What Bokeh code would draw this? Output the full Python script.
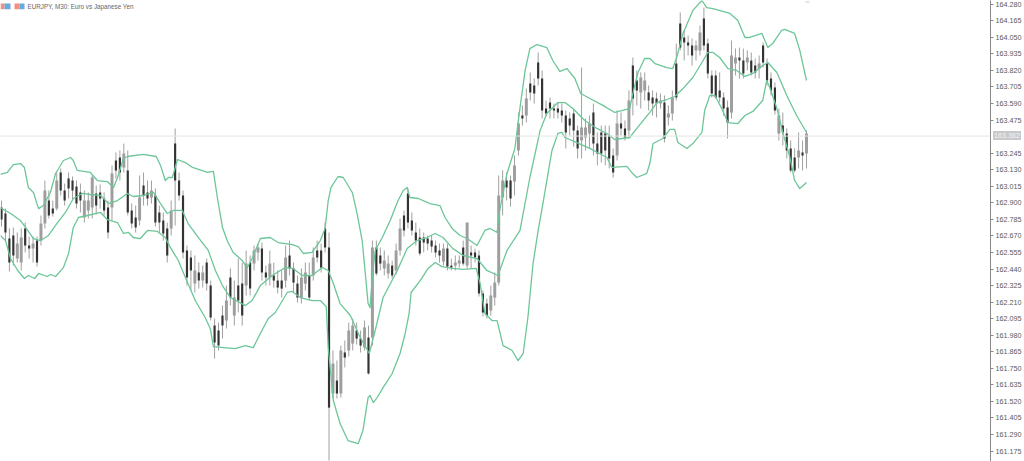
from bokeh.plotting import figure
from bokeh.layouts import column
from bokeh.models import (ColumnDataSource, Range1d, FixedTicker, NumeralTickFormatter,
                          Span, Label, BoxAnnotation, Div)
from bokeh.embed import file_html
from bokeh.resources import INLINE

TITLE = "EURJPY, M30:  Euro vs Japanese Yen"
LAST_PRICE = 163.364
LAST_LABEL = "163.362"
TICK_LABELS = [164.280,164.165,164.050,163.935,163.820,163.705,163.590,163.475,163.245,163.130,
               163.015,162.900,162.785,162.670,162.555,162.440,162.325,162.210,162.095,161.980,
               161.865,161.750,161.635,161.520,161.405,161.290,161.175]

bar_open = [
162.867,162.826,162.652,162.673,162.513,162.485,162.722,162.603,162.582,162.638,
162.638,162.756,162.916,162.860,162.860,163.111,162.986,163.069,163.055,163.014,
162.972,162.798,162.847,162.867,162.965,162.972,162.930,162.867,162.867,163.194,
163.215,163.146,163.125,162.847,162.798,162.777,163.020,162.972,162.937,162.951,
162.833,162.777,162.722,162.722,163.312,163.055,162.951,162.569,162.520,162.339,
162.416,162.360,162.485,162.325,162.047,162.013,162.117,162.082,162.381,162.117,
162.325,162.339,162.325,162.485,162.478,162.555,162.582,162.416,162.381,162.395,
162.360,162.360,162.360,162.534,162.444,162.339,162.242,162.339,162.395,162.395,
162.569,162.569,162.722,162.590,161.575,161.665,161.575,161.860,161.874,161.922,
162.013,161.957,161.895,161.964,161.964,162.590,162.534,162.444,162.409,162.464,
162.430,162.569,162.812,162.965,162.777,162.694,162.659,162.659,162.652,162.638,
162.603,162.569,162.492,162.582,162.464,162.464,162.478,162.590,162.464,162.555,
162.555,162.534,162.270,162.200,162.152,162.242,162.346,162.937,163.055,163.055,
163.048,163.264,163.507,163.507,163.729,163.715,163.875,163.764,163.555,163.597,
163.555,163.555,163.542,163.507,163.486,163.521,163.403,163.333,163.354,163.382,
163.528,163.312,163.389,163.382,163.368,163.229,163.229,163.451,163.417,163.403,
163.854,163.750,163.667,163.681,163.667,163.632,163.625,163.590,163.597,163.493,
163.521,163.868,164.146,164.049,164.014,163.993,163.959,163.959,164.181,164.007,
163.785,163.785,163.681,163.632,163.562,163.528,163.868,163.910,163.889,163.875,
163.889,163.854,163.833,163.993,163.868,163.764,163.701,163.382,163.437,163.382,
163.278,163.215,163.215,163.250,163.243]

bar_close = [
162.784,162.694,162.485,162.534,162.617,162.659,162.603,162.582,162.617,162.485,
162.756,162.986,162.812,162.826,163.055,162.986,162.916,163.000,162.986,162.895,
162.916,162.916,162.916,163.076,162.882,162.930,162.847,162.694,163.104,163.125,
163.111,163.243,162.833,162.756,162.729,162.937,162.951,162.930,162.986,162.763,
162.763,162.687,162.534,162.847,163.055,162.951,162.555,162.381,162.430,162.430,
162.360,162.416,162.339,162.103,161.929,161.908,162.047,162.221,162.242,162.242,
162.221,162.117,162.478,162.304,162.569,162.590,162.416,162.381,162.478,162.360,
162.311,162.304,162.520,162.444,162.346,162.242,162.381,162.416,162.242,162.520,
162.520,162.450,162.590,161.477,161.783,161.575,161.874,161.825,162.013,162.047,
161.957,161.908,162.034,161.714,162.590,162.409,162.478,162.499,162.478,162.395,
162.569,162.722,162.708,162.763,162.708,162.638,162.548,162.624,162.617,162.596,
162.555,162.534,162.582,162.457,162.450,162.485,162.499,162.478,162.763,162.534,
162.520,162.270,162.138,162.117,162.256,162.346,162.951,163.055,163.006,162.930,
163.160,163.451,163.486,163.625,163.667,163.660,163.764,163.542,163.521,163.555,
163.542,163.528,163.507,163.389,163.437,163.403,163.278,163.424,163.424,163.451,
163.312,163.243,163.243,163.264,163.208,163.111,163.451,163.417,163.354,163.611,
163.625,163.681,163.771,163.750,163.611,163.590,163.590,163.611,163.347,163.521,
163.632,163.632,163.979,164.014,163.993,163.924,163.993,164.084,163.993,163.799,
163.660,163.632,163.632,163.555,163.458,163.924,163.910,163.889,163.799,163.910,
163.806,163.806,163.868,163.875,163.750,163.681,163.542,163.507,163.389,163.264,
163.125,163.125,163.264,163.229,163.382]

bar_high = [
162.916,162.860,162.722,162.729,162.694,162.722,162.763,162.666,162.666,162.666,
162.812,163.055,162.986,162.916,163.111,163.139,163.034,163.111,163.083,163.055,
163.034,162.986,162.972,163.090,163.020,163.027,162.972,162.916,163.160,163.250,
163.264,163.312,163.264,162.895,162.881,163.090,163.111,163.055,163.055,163.000,
162.881,162.833,162.763,162.916,163.417,163.111,162.986,162.603,162.569,162.534,
162.485,162.464,162.513,162.360,162.096,162.068,162.186,162.325,162.444,162.360,
162.513,162.485,162.569,162.534,162.603,162.617,162.624,162.464,162.569,162.485,
162.430,162.430,162.603,162.638,162.485,162.395,162.444,162.485,162.485,162.590,
162.638,162.617,162.763,162.694,161.874,161.804,161.908,161.943,162.068,162.096,
162.068,162.013,162.082,162.047,162.638,162.638,162.590,162.569,162.534,162.499,
162.617,162.791,162.847,163.000,162.833,162.763,162.722,162.694,162.673,162.673,
162.638,162.617,162.617,162.617,162.513,162.534,162.534,162.638,162.763,162.603,
162.582,162.569,162.291,162.235,162.325,162.416,163.090,163.125,163.111,163.090,
163.229,163.528,163.577,163.694,163.806,163.764,163.945,163.820,163.611,163.632,
163.590,163.597,163.590,163.542,163.528,163.555,163.437,163.840,163.486,163.507,
163.590,163.389,163.437,163.437,163.437,163.278,163.542,163.528,163.472,163.681,
163.910,163.820,163.806,163.806,163.715,163.681,163.667,163.660,163.646,163.577,
163.681,164.007,164.223,164.098,164.063,164.042,164.028,164.132,164.257,164.042,
163.820,163.820,163.806,163.667,163.611,164.028,163.972,163.979,163.972,163.959,
163.945,163.903,163.924,164.014,163.903,163.806,163.736,163.555,163.528,163.417,
163.333,163.278,163.389,163.333,163.403]

bar_low = [
162.735,162.638,162.423,162.464,162.485,162.430,162.555,162.513,162.485,162.457,
162.603,162.722,162.791,162.805,162.847,162.951,162.881,162.930,162.916,162.860,
162.833,162.763,162.791,162.791,162.819,162.860,162.812,162.652,162.777,163.069,
163.055,163.111,162.812,162.722,162.694,162.742,162.881,162.881,162.895,162.735,
162.694,162.638,162.485,162.673,162.742,162.916,162.513,162.325,162.291,162.277,
162.304,162.311,162.291,162.082,161.818,161.874,161.957,162.027,162.186,162.047,
162.138,162.047,162.256,162.256,162.430,162.499,162.360,162.325,162.325,162.311,
162.270,162.242,162.311,162.395,162.277,162.207,162.200,162.291,162.221,162.360,
162.485,162.416,162.555,161.109,161.540,161.540,161.547,161.756,161.832,161.874,
161.915,161.860,161.874,161.707,161.908,162.395,162.430,162.395,162.374,162.374,
162.402,162.534,162.666,162.722,162.673,162.603,162.534,162.555,162.569,162.555,
162.520,162.485,162.464,162.430,162.430,162.430,162.450,162.464,162.444,162.444,
162.485,162.249,162.110,162.096,162.117,162.186,162.325,162.812,162.916,162.874,
162.951,163.229,163.437,163.458,163.611,163.590,163.715,163.486,163.500,163.486,
163.486,163.486,163.458,163.278,163.368,163.291,163.208,163.208,163.264,163.278,
163.229,163.160,163.180,163.160,163.139,163.076,163.194,163.368,163.333,163.347,
163.507,163.577,163.555,163.611,163.542,163.507,163.493,163.555,163.319,163.437,
163.472,163.611,163.959,163.889,163.924,163.854,163.889,163.924,163.959,163.764,
163.632,163.625,163.597,163.507,163.347,163.486,163.785,163.764,163.764,163.820,
163.785,163.764,163.764,163.840,163.715,163.646,163.514,163.333,163.299,163.208,
163.111,163.111,163.139,163.125,163.139]

upper_bar = [
-0.3,1.5,3.0,4.8,5.8,6.8,8.1,9.4,10.6,12.4,
13.7,15.7,17.5,18.2,19.2,22.5,24.3,26.8,28.4,29.4,
30.9,31.9,35.9,39.2,40.3,41.5,42.3,43.3,44.6,46.6,
48.4,52.2,53.7,54.7,56.0,57.2,58.7,61.0,62.3,63.5,
65.6,68.1,70.1,73.7,75.2,76.5,78.7,80.8,82.0,82.8,
83.5,85.3,86.6,88.9,90.1,91.4,92.2,92.9,93.4,93.9,
94.7,96.5,98.5,100.5,101.8,102.8,103.5,105.6,108.6,111.1,
112.4,114.2,116.2,118.0,120.5,122.5,123.8,125.6,126.1,128.1,
130.1,131.4,132.7,133.9,135.7,138.2,139.7,141.5,143.3,145.3,
146.8,149.1,152.4,155.4,159.2,160.0,161.3,163.0,164.3,165.6,
168.6,170.1,171.1,172.7,175.2,177.5,178.7,180.3,184.6,186.6,
188.4,189.6,192.7,194.2,195.4,197.7,198.5,201.0,202.3,204.0]
upper_band = [
163.097,163.111,163.166,163.173,163.146,163.007,162.972,162.860,162.881,162.972,
163.104,163.194,163.215,163.194,163.125,163.111,163.055,163.048,163.007,163.076,
163.208,163.222,163.236,163.222,163.160,163.055,163.076,163.076,163.201,163.180,
163.146,163.111,163.118,162.937,162.729,162.638,162.555,162.499,162.450,162.513,
162.652,162.659,162.624,162.610,162.596,162.548,162.555,162.638,162.722,162.916,
163.007,163.083,163.076,162.972,162.826,162.638,162.409,162.200,162.172,162.360,
162.569,162.659,162.777,162.916,162.986,163.007,162.937,162.930,162.895,162.881,
162.798,162.722,162.673,162.652,162.603,162.708,162.722,162.694,162.826,163.104,
163.278,163.562,163.820,163.972,164.000,163.979,163.889,163.813,163.833,163.764,
163.660,163.625,163.577,163.528,163.555,163.660,163.806,163.903,163.903,163.868,
163.840,163.833,163.910,164.077,164.237,164.306,164.257,164.250,164.216,164.167,
164.049,164.049,164.077,163.979,164.007,164.098,164.105,164.077,163.959,163.750]

middle_bar = [
-0.3,2.3,4.8,6.1,8.1,9.9,11.9,14.2,16.2,18.2,
20.5,22.5,25.1,27.1,29.4,31.9,33.4,35.9,38.5,40.3,
42.0,43.5,45.8,47.3,49.9,52.4,54.2,56.0,58.0,61.8,
63.5,65.6,68.6,71.9,73.9,76.2,78.7,81.3,82.8,84.1,
85.8,88.4,90.9,93.2,94.7,96.7,100.3,102.8,105.3,107.8,
109.9,111.9,114.4,117.0,120.5,123.0,125.8,128.1,131.4,133.9,
136.5,138.2,141.0,142.8,144.8,147.8,150.9,153.4,155.4,159.2,
161.0,164.3,166.1,168.6,170.6,172.7,175.2,177.5,179.0,180.3,
182.0,184.1,186.3,188.4,190.4,192.9,194.2,196.5,199.0,201.5,
204.0]
middle_band = [
162.867,162.826,162.777,162.729,162.652,162.638,162.673,162.763,162.833,162.930,
162.965,162.958,162.951,162.895,162.916,162.965,162.944,162.951,162.972,162.895,
162.826,162.847,162.847,162.756,162.659,162.569,162.430,162.325,162.242,162.186,
162.221,162.325,162.395,162.450,162.444,162.395,162.395,162.450,162.430,162.339,
162.200,162.117,161.964,161.853,162.013,162.242,162.430,162.582,162.638,162.659,
162.687,162.659,162.582,162.534,162.513,162.430,162.395,162.569,162.708,163.076,
163.403,163.521,163.597,163.597,163.555,163.472,163.417,163.382,163.340,163.354,
163.417,163.528,163.597,163.618,163.639,163.694,163.771,163.875,163.945,163.945,
163.910,163.833,163.820,163.778,163.799,163.854,163.875,163.806,163.646,163.507,
163.389]

lower_bar = [
-0.3,1.0,2.3,4.1,5.8,6.8,8.4,9.4,11.6,12.4,
13.7,15.7,17.0,18.2,19.5,21.8,25.1,26.8,29.4,30.9,
32.2,33.4,35.2,37.0,39.5,41.5,42.8,44.8,46.6,49.1,
51.6,52.9,53.7,56.2,59.2,61.8,63.8,65.6,67.6,69.4,
72.4,73.7,75.7,78.7,80.8,82.3,82.8,84.1,85.8,87.8,
90.4,91.6,92.9,93.4,94.2,95.2,96.7,99.0,101.0,102.3,
103.3,103.8,106.1,108.1,109.9,111.6,114.2,117.0,120.3,121.3,
122.5,124.3,125.6,127.1,129.4,130.9,132.2,133.4,134.7,136.0,
137.2,139.5,141.0,142.0,142.8,145.8,149.1,153.4,154.7,158.5,
159.7,161.0,163.5,164.3,165.1,167.6,169.4,170.6,171.4,173.7,
175.2,177.5,178.2,179.5,180.8,182.5,184.1,186.6,188.4,190.4,
192.9,193.9,194.7,196.5,198.0,199.8,201.0,202.3,204.0]
lower_band = [
162.673,162.638,162.513,162.430,162.374,162.395,162.374,162.409,162.388,162.402,
162.388,162.450,162.548,162.729,162.798,162.812,162.833,162.784,162.763,162.687,
162.694,162.659,162.652,162.708,162.701,162.659,162.590,162.499,162.381,162.221,
162.103,162.027,161.901,161.894,161.887,161.908,161.894,161.992,162.096,162.138,
162.277,162.284,162.242,162.221,162.221,162.179,161.894,161.526,161.366,161.248,
161.227,161.318,161.547,161.561,161.512,161.547,161.616,161.714,161.853,161.992,
162.131,162.277,162.360,162.444,162.485,162.457,162.444,162.437,162.444,162.339,
162.131,162.082,162.082,161.908,161.874,161.804,161.853,162.103,162.478,162.708,
162.895,163.264,163.382,163.389,163.354,163.319,163.278,163.215,163.146,163.153,
163.111,163.076,163.104,163.173,163.312,163.347,163.410,163.410,163.319,163.278,
163.312,163.389,163.542,163.646,163.646,163.555,163.458,163.451,163.507,163.535,
163.611,163.750,163.701,163.555,163.389,163.215,163.055,162.999,163.041]

assert len(bar_open) == len(bar_close) == len(bar_high) == len(bar_low)
assert len(upper_bar) == len(upper_band)
assert len(middle_bar) == len(middle_band)
assert len(lower_bar) == len(lower_band)

GREEN = "#6cc698"
FONT = "Liberation Sans"

idx = list(range(len(bar_open)))
src = ColumnDataSource(dict(
    i=idx, high=bar_high, low=bar_low,
    top=[max(o, c) for o, c in zip(bar_open, bar_close)],
    bottom=[min(o, c) for o, c in zip(bar_open, bar_close)],
    w=[0.55 if c < o else 0.75 for o, c in zip(bar_open, bar_close)],
    color=["#333333" if c < o else "#9e9e9e" for o, c in zip(bar_open, bar_close)],
))

p = figure(width=1024, height=461, output_backend="svg", toolbar_location=None,
           x_range=Range1d(-0.253, 250.63), y_range=Range1d(161.1025, 164.306),
           y_axis_location="right", min_border=0, min_border_right=33,
           min_border_left=0, min_border_top=0, min_border_bottom=0,
           margin=(0, 0, 0, 0), outline_line_color=None,
           background_fill_color="white", border_fill_color="white")
p.xaxis.visible = False
p.xgrid.visible = False
p.ygrid.visible = False

ax = p.yaxis[0]
ax.ticker = FixedTicker(ticks=TICK_LABELS)
ax.formatter = NumeralTickFormatter(format="0.000")
ax.axis_line_color = "#8a8a8a"
ax.axis_line_width = 1
ax.major_tick_line_color = "#8a8a8a"
ax.major_tick_in = 0
ax.major_tick_out = 3
ax.minor_tick_line_color = None
ax.major_label_text_font = FONT
ax.major_label_text_font_size = "7.2px"
ax.major_label_text_color = "#5a5a5a"
ax.major_label_standoff = 2

p.add_layout(Span(location=LAST_PRICE, dimension="width", line_color="#e4e4e4", line_width=1))

p.segment(x0="i", y0="low", x1="i", y1="high", source=src, line_color="#a0a0a0", line_width=1)
p.vbar(x="i", width="w", top="top", bottom="bottom", source=src,
       fill_color="color", line_color=None)

for xs, ys in ((upper_bar, upper_band), (middle_bar, middle_band), (lower_bar, lower_band)):
    p.line(xs, ys, line_color=GREEN, line_width=1.3, line_join="round")

p.add_layout(Label(x=27, y=164.264, x_units="screen", y_units="data", text=TITLE,
                   text_font=FONT, text_font_size="6.3px", text_color="#666666",
                   text_baseline="middle"))
for l, r, c in ((0, 4, "#f2917f"), (4, 10, "#6aa9dc"), (14, 19, "#f2917f"), (19, 24, "#6aa9dc")):
    p.add_layout(BoxAnnotation(left=l, right=r, left_units="screen", right_units="screen",
                               top=164.286, bottom=164.245, fill_color=c, fill_alpha=1,
                               line_color=None))
p.add_layout(BoxAnnotation(left=805, right=809, left_units="screen", right_units="screen",
                           top=164.306, bottom=164.288, fill_color="#e6e6e6", fill_alpha=1,
                           line_color=None))

tag = Div(text=LAST_LABEL, width=28, height=9, margin=0,
          styles={"position": "absolute", "left": "993px", "top": "131px", "z-index": "5",
                  "background": "#c9c9c9", "color": "#f4f4f4", "font-family": FONT,
                  "font-size": "7.2px", "line-height": "9px", "text-align": "center"})

page = column(p, tag, width=1024, height=461, margin=0, sizing_mode="fixed")
open("out.html", "w").write(file_html(page, INLINE))
